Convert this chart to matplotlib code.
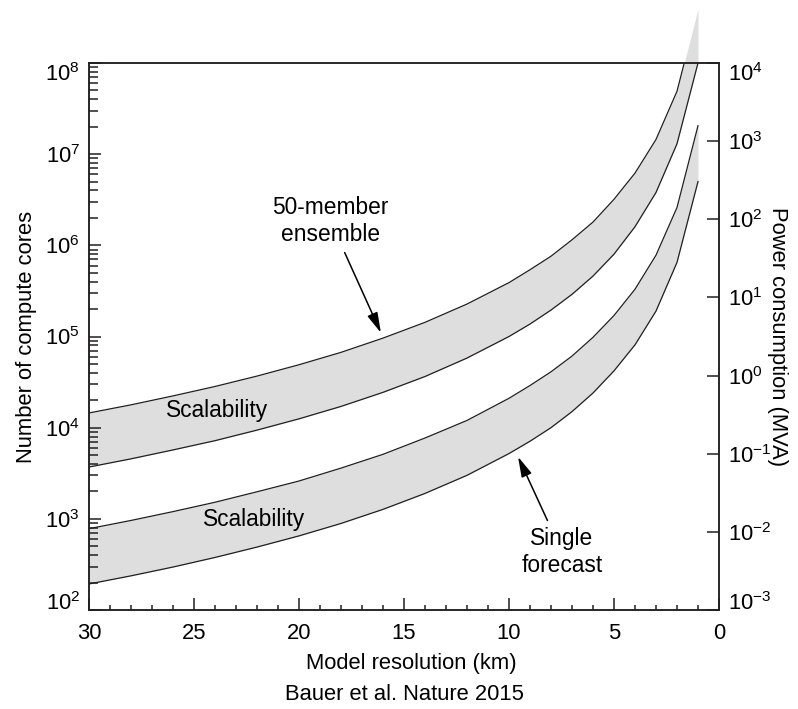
import matplotlib
matplotlib.use('Agg')
import matplotlib.pyplot as plt
from matplotlib.ticker import MultipleLocator, LogLocator, NullLocator, NullFormatter

plt.rcParams['font.family'] = ['Liberation Sans', 'DejaVu Sans']
plt.rcParams['mathtext.fontset'] = 'custom'
plt.rcParams['mathtext.rm'] = 'Liberation Sans'
plt.rcParams['mathtext.it'] = 'Liberation Sans:italic'
plt.rcParams['mathtext.bf'] = 'Liberation Sans:bold'
plt.rcParams['mathtext.default'] = 'regular'
plt.rcParams['font.size'] = 15.8

# model resolution (km) and number of compute cores
km = [30, 28, 26, 24, 22, 20, 18, 16, 14, 12, 10, 9, 8, 7, 6, 5, 4, 3, 2, 1]
ens_hi = [1.45e4, 1.78e4, 2.23e4, 2.83e4, 3.68e4, 4.9e4, 6.7e4, 9.6e4, 1.43e5, 2.27e5,
          3.9e5, 5.4e5, 7.6e5, 1.15e6, 1.8e6, 3.2e6, 6.2e6, 1.45e7, 4.9e7, 3.9e8]
ens_lo = [3.7e3, 4.55e3, 5.7e3, 7.2e3, 9.4e3, 1.25e4, 1.71e4, 2.44e4, 3.64e4, 5.8e4,
          1.0e5, 1.37e5, 1.95e5, 2.9e5, 4.6e5, 8.0e5, 1.6e6, 3.8e6, 1.3e7, 1.0e8]
single_hi = [780, 960, 1.2e3, 1.52e3, 1.98e3, 2.6e3, 3.6e3, 5.1e3, 7.7e3, 1.2e4,
             2.1e4, 2.9e4, 4.1e4, 6.1e4, 9.8e4, 1.7e5, 3.3e5, 7.8e5, 2.6e6, 2.05e7]
single_lo = [193, 237, 296, 377, 490, 650, 890, 1.27e3, 1.9e3, 3.0e3,
             5.2e3, 7.1e3, 1.0e4, 1.5e4, 2.4e4, 4.2e4, 8.1e4, 1.9e5, 6.5e5, 5.0e6]

x_ticks = [30, 25, 20, 15, 10, 5, 0]
left_ticks = [1e2, 1e3, 1e4, 1e5, 1e6, 1e7, 1e8]
right_ticks = [1e-3, 1e-2, 1e-1, 1e0, 1e1, 1e2, 1e3, 1e4]

band_col = '#dedede'
line_col = '#231f20'

fig = plt.figure(figsize=(7.98, 7.09), dpi=100)
ax = fig.add_axes([89 / 798, 99 / 709, 630 / 798, 547 / 709])

# grey bands (the ensemble one runs out through the top of the box)
ax.fill_between(km, ens_lo, ens_hi, color=band_col, lw=0, clip_on=False, zorder=1)
ax.fill_between(km, single_lo, single_hi, color=band_col, lw=0, zorder=1)
for ys in (ens_hi, ens_lo, single_hi, single_lo):
    ax.plot(km, ys, color=line_col, lw=0.9, zorder=3)

ax.set_yscale('log')
ax.set_ylim(left_ticks[0], left_ticks[-1])
ax.set_xlim(30, 0)
ax.set_xticks(x_ticks)
ax.set_xticklabels([str(v) for v in x_ticks])
ax.xaxis.set_minor_locator(MultipleLocator(1))
ax.set_yticks(left_ticks)
ax.yaxis.set_minor_locator(LogLocator(base=10, subs=range(2, 10), numticks=20))
ax.yaxis.set_minor_formatter(NullFormatter())

for sp in ax.spines.values():
    sp.set_linewidth(1.1)
    sp.set_color(line_col)

ax.tick_params(axis='both', which='both', direction='in', width=1.1, color=line_col,
               top=False, right=False)
ax.tick_params(axis='x', which='major', length=8.5, pad=9.5)
ax.tick_params(axis='x', which='minor', length=3.8)
ax.tick_params(axis='y', which='major', length=8.5, pad=6.5)
ax.tick_params(axis='y', which='minor', length=6.2)

ax.set_xlabel('Model resolution (km)')
ax.xaxis.set_label_coords(0.512, -0.078)
ax.set_ylabel('Number of compute cores')
ax.yaxis.set_label_coords(-0.082, 0.5)

# power consumption axis
ax2 = ax.twinx()
ax2.set_yscale('log')
ax2.set_ylim(right_ticks[0], right_ticks[-1])
ax2.set_yticks(right_ticks)
ax2.yaxis.set_minor_locator(NullLocator())
ax2.tick_params(axis='y', which='major', direction='in', length=8.5, width=1.1,
                color=line_col, pad=6.5)
for sp in ax2.spines.values():
    sp.set_linewidth(1.1)
    sp.set_color(line_col)
ax2.set_ylabel('Power consumption (MVA)', rotation=270, va='bottom')
ax2.yaxis.set_label_coords(1.076, 0.5)

# end labels sit inside the box, as in the original
for a in (ax, ax2):
    labs = a.get_yticklabels()
    labs[0].set_va('baseline')
    labs[-1].set_va('top')
    labs[-1].set_y(0)

arrow = dict(arrowstyle='-|>,head_length=0.75,head_width=0.2', color='black', lw=1.1,
             shrinkA=3, shrinkB=0)
ax.annotate('50-member\nensemble', xy=(16.1, 1.1e5), xytext=(18.5, 1.84e6),
            ha='center', va='center', fontsize=16.4, arrowprops=arrow)
ax.annotate('Single\nforecast', xy=(9.57, 4.8e3), xytext=(7.48, 434),
            ha='center', va='center', fontsize=16.4, arrowprops=arrow)
ax.text(23.9, 1.54e4, 'Scalability', ha='center', va='center', fontsize=16.4)
ax.text(22.14, 975, 'Scalability', ha='center', va='center', fontsize=16.4)

fig.text(404 / 798, 1 - 695 / 709, 'Bauer et al. Nature 2015', ha='center', va='center')

fig.savefig('out.png', dpi=100)
